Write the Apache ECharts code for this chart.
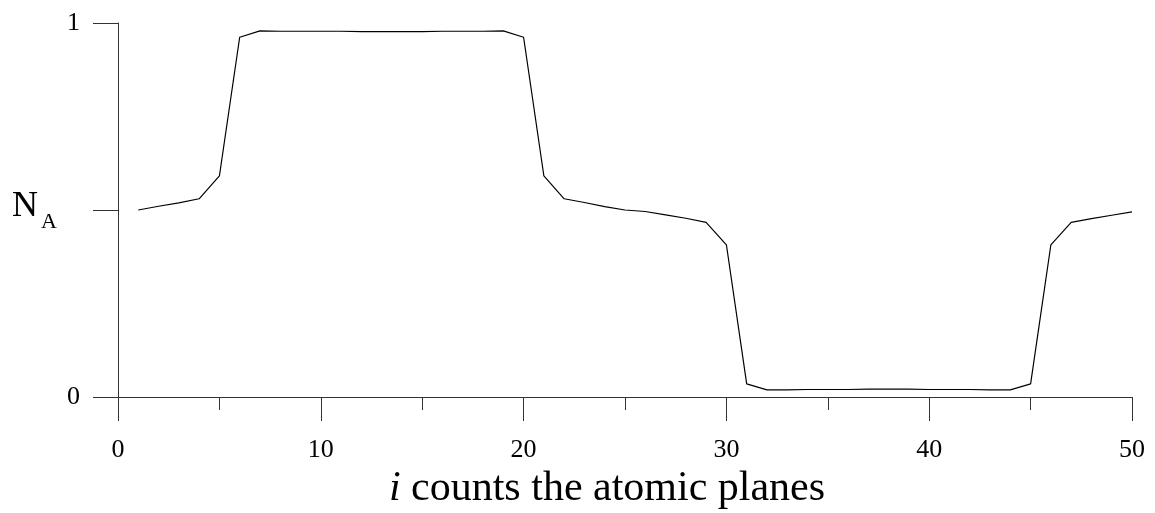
<!DOCTYPE html>
<html>
<head>
<meta charset="utf-8">
<script src="https://cdn.jsdelivr.net/npm/echarts@6/dist/echarts.min.js"></script>
<style>
  html, body { margin: 0; padding: 0; background: #fff; }
  #main { width: 1155px; height: 513px; }
</style>
</head>
<body>
<div id="main"></div>
<script>
// atomic plane index
var planes = [1, 2, 3, 4, 5, 6, 7, 8, 9, 10,
              11, 12, 13, 14, 15, 16, 17, 18, 19, 20,
              21, 22, 23, 24, 25, 26, 27, 28, 29, 30,
              31, 32, 33, 34, 35, 36, 37, 38, 39, 40,
              41, 42, 43, 44, 45, 46, 47, 48, 49, 50];
// N_A
var nA = [0.500, 0.510, 0.519, 0.530, 0.591, 0.962, 0.979, 0.978, 0.978, 0.978,
          0.978, 0.977, 0.977, 0.977, 0.977, 0.978, 0.978, 0.978, 0.979, 0.962,
          0.591, 0.530, 0.520, 0.509, 0.500, 0.496, 0.487, 0.478, 0.467, 0.407,
          0.035, 0.019, 0.019, 0.020, 0.020, 0.020, 0.021, 0.021, 0.021, 0.020,
          0.020, 0.020, 0.019, 0.019, 0.035, 0.407, 0.467, 0.477, 0.486, 0.495];
var yLabels = {0: '0', 1: '1'};

var serif = 'Liberation Serif';
var myChart = echarts.init(document.getElementById('main'));

var points = [];
for (var i = 0; i < planes.length; i++) {
    points.push([planes[i], nA[i]]);
}

var option = {
    animation: false,
    grid: { left: 118, right: 23, top: 23, bottom: 116, outerBoundsMode: 'none', containLabel: false },
    xAxis: {
        type: 'value',
        min: 0,
        max: 50,
        interval: 10,
        name: '{i|i} counts the atomic planes',
        nameLocation: 'middle',
        nameGap: 68,
        nameTextStyle: {
            fontFamily: serif, fontSize: 42, color: '#000',
            padding: [0, 36, 0, 0],
            rich: { i: { fontFamily: serif, fontSize: 42, fontStyle: 'italic', color: '#000' } }
        },
        axisLine: { show: true, lineStyle: { color: '#333', width: 1 } },
        axisTick: { show: true, length: 24, lineStyle: { color: '#333', width: 1 } },
        minorTick: { show: true, splitNumber: 2, length: 13, lineStyle: { color: '#333', width: 1 } },
        axisLabel: { margin: 40, fontFamily: serif, fontSize: 26, color: '#000' },
        splitLine: { show: false }
    },
    yAxis: {
        type: 'value',
        min: 0,
        max: 1,
        interval: 0.5,
        axisLine: { show: true, lineStyle: { color: '#333', width: 1 } },
        axisTick: { show: true, length: 25, lineStyle: { color: '#333', width: 1 } },
        axisLabel: {
            margin: 38, fontFamily: serif, fontSize: 26, color: '#000',
            formatter: function (v) { return yLabels[v] || ''; }
        },
        splitLine: { show: false }
    },
    graphic: [
        { type: 'text', x: 12, y: 207, style: { text: 'N', fontFamily: serif, fontSize: 36, fill: '#000', verticalAlign: 'middle' } },
        { type: 'text', x: 41, y: 222, style: { text: 'A', fontFamily: serif, fontSize: 22, fill: '#000', verticalAlign: 'middle' } }
    ],
    series: [
        {
            type: 'line',
            data: points,
            showSymbol: false,
            lineStyle: { color: '#000', width: 1.2 },
            silent: true
        }
    ]
};
myChart.setOption(option);
window.onresize = function () {
    myChart.resize();
};
</script>
</body>
</html>
